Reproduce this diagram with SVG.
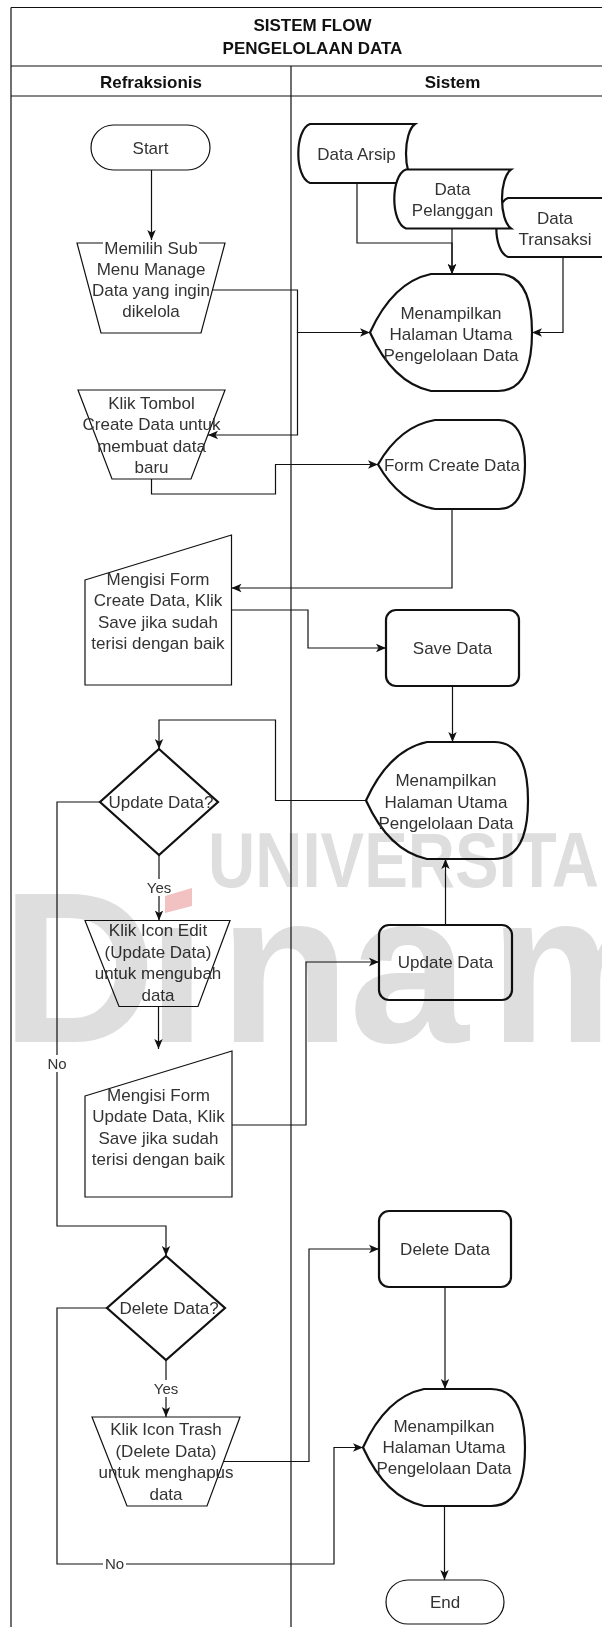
<svg xmlns="http://www.w3.org/2000/svg" width="602" height="1627" viewBox="0 0 602 1627">
<defs>
<style>
.ln{fill:none;stroke:#111;stroke-width:1.2}
.n1{fill:#fff;stroke:#111;stroke-width:1.2}
.n2{fill:#fff;stroke:#111;stroke-width:2.2}
.e{fill:none;stroke:#111;stroke-width:1.2;marker-end:url(#arr)}
text{font-family:"Liberation Sans",Arial,Helvetica,sans-serif}
.t{font-size:17px;fill:#333;text-anchor:middle}
.h{font-size:17px;font-weight:bold;fill:#111;text-anchor:middle}
.l{font-size:15px;fill:#333;text-anchor:middle}
.bg{fill:#fff}
.wm{font-weight:bold;fill:#dedede}
</style>
<marker id="arr" viewBox="0 0 10 10" refX="10" refY="5" markerWidth="10" markerHeight="10" markerUnits="userSpaceOnUse" orient="auto"><path d="M0,0.8 L10,5 L0,9.2 L2.5,5 Z" fill="#111"/></marker>
<clipPath id="nodot"><path clip-rule="evenodd" d="M-10,840 H620 V1100 H-10 Z M150,870 H205 V924 H150 Z"/></clipPath>
</defs>
<rect x="0" y="0" width="602" height="1627" fill="#fff"/>

<g id="lanes">
<path class="ln" d="M11,7.5 H614 M11,7.5 V1640 M11,66 H614 M11,96 H614 M291,66 V1640"/>
<text class="h" x="312.5" y="31">SISTEM FLOW</text>
<text class="h" x="312.5" y="54">PENGELOLAAN DATA</text>
<text class="h" x="151" y="87.5">Refraksionis</text>
<text class="h" x="452.5" y="87.5">Sistem</text>
</g>

<g id="start">
<rect class="n1" x="91" y="125" width="119" height="45" rx="22.5"/>
<text class="t" x="150.5" y="153.5">Start</text>
</g>

<g id="pilih-menu">
<path class="n1" d="M77,243 L225,243 L201,333 L101,333 Z"/>
<rect class="bg" x="103" y="241" width="96" height="15"/>
<text class="t" x="151" y="254">Memilih Sub</text>
<text class="t" x="151" y="275">Menu Manage</text>
<text class="t" x="151" y="296">Data yang ingin</text>
<text class="t" x="151" y="317">dikelola</text>
</g>

<g id="data-arsip">
<path class="n2" d="M310,124 H415 C403,132.85 403,174.15 415,183 H310 C294.4,177.1 294.4,129.9 310,124 Z"/>
<text class="t" x="356.5" y="160">Data Arsip</text>
</g>

<g id="data-transaksi">
<path class="n2" d="M508,198 H614 C602,206.85 602,248.15 614,257 H508 C492.4,251.1 492.4,203.9 508,198 Z"/>
<text class="t" x="555" y="223.5">Data</text>
<text class="t" x="555" y="244.5">Transaksi</text>
</g>

<g id="data-pelanggan">
<path class="n2" d="M406,169.5 H511 C499,178.35 499,219.65 511,228.5 H406 C390.4,222.6 390.4,175.4 406,169.5 Z"/>
<text class="t" x="452.5" y="195">Data</text>
<text class="t" x="452.5" y="216">Pelanggan</text>
</g>

<g id="tampil-1">
<path class="n2" d="M431,274 H498 Q532,274 532,332.5 Q532,391 498,391 H431 Q393,383 370,332.5 Q393,282 431,274 Z"/>
<text class="t" x="451" y="318.5">Menampilkan</text>
<text class="t" x="451" y="339.5">Halaman Utama</text>
<text class="t" x="451" y="360.5">Pengelolaan Data</text>
</g>

<g id="klik-create">
<path class="n1" d="M78,390 L225,390 L191,479 L112,479 Z"/>
<text class="t" x="151.5" y="409">Klik Tombol</text>
<text class="t" x="151.5" y="430">Create Data untuk</text>
<text class="t" x="151.5" y="451.5">membuat data</text>
<text class="t" x="151.5" y="473">baru</text>
</g>

<g id="form-create">
<path class="n2" d="M435,420 H499 Q525,420 525,464.5 Q525,509 499,509 H435 Q400,503 378,464.5 Q400,426 435,420 Z"/>
<text class="t" x="452" y="470.5">Form Create Data</text>
</g>

<g id="isi-create">
<path class="n1" d="M85,580 L231.5,535 L231.5,685 L85,685 Z"/>
<text class="t" x="158" y="584.5">Mengisi Form</text>
<text class="t" x="158" y="606">Create Data, Klik</text>
<text class="t" x="158" y="627.5">Save jika sudah</text>
<text class="t" x="158" y="649">terisi dengan baik</text>
</g>

<g id="save-data">
<rect class="n2" x="386" y="610" width="133" height="76" rx="10"/>
<text class="t" x="452.5" y="654">Save Data</text>
</g>

<g id="tampil-2">
<path class="n2" d="M427,742 H494 Q528,742 528,800.5 Q528,859 494,859 H427 Q389,851 366,800.5 Q389,750 427,742 Z"/>
<text class="t" x="446" y="786">Menampilkan</text>
<text class="t" x="446" y="807.5">Halaman Utama</text>
<text class="t" x="446" y="829">Pengelolaan Data</text>
</g>

<g id="update-q">
<path class="n2" d="M159,749 L218,802 L159,855 L100,802 Z"/>
<text class="t" x="161" y="808">Update Data?</text>
</g>

<g id="klik-edit">
<path class="n1" d="M85,920.5 L230,920.5 L198,1006.5 L119,1006.5 Z"/>
<text class="t" x="158" y="936">Klik Icon Edit</text>
<text class="t" x="158" y="957.5">(Update Data)</text>
<text class="t" x="158" y="979">untuk mengubah</text>
<text class="t" x="158" y="1000.5">data</text>
</g>

<g id="update-data">
<rect class="n2" x="379" y="925" width="133" height="75" rx="10"/>
<text class="t" x="445.5" y="968">Update Data</text>
</g>

<g id="isi-update">
<path class="n1" d="M85,1096 L232,1051 L232,1197 L85,1197 Z"/>
<text class="t" x="158.5" y="1100.5">Mengisi Form</text>
<text class="t" x="158.5" y="1122">Update Data, Klik</text>
<text class="t" x="158.5" y="1143.5">Save jika sudah</text>
<text class="t" x="158.5" y="1165">terisi dengan baik</text>
</g>

<g id="delete-q">
<path class="n2" d="M166,1256 L225,1308 L166,1360 L107,1308 Z"/>
<text class="t" x="169" y="1314">Delete Data?</text>
</g>

<g id="delete-data">
<rect class="n2" x="379" y="1211" width="132" height="76" rx="10"/>
<text class="t" x="445" y="1255">Delete Data</text>
</g>

<g id="klik-trash">
<path class="n1" d="M92,1417 L240,1417 L207,1506 L127,1506 Z"/>
<text class="t" x="166" y="1435">Klik Icon Trash</text>
<text class="t" x="166" y="1457">(Delete Data)</text>
<text class="t" x="166" y="1478">untuk menghapus</text>
<text class="t" x="166" y="1499.5">data</text>
</g>

<g id="tampil-3">
<path class="n2" d="M424,1389 H491 Q525,1389 525,1447.5 Q525,1506 491,1506 H424 Q386,1498 363,1447.5 Q386,1397 424,1389 Z"/>
<text class="t" x="444" y="1432">Menampilkan</text>
<text class="t" x="444" y="1453">Halaman Utama</text>
<text class="t" x="444" y="1474">Pengelolaan Data</text>
</g>

<g id="end">
<rect class="n1" x="386" y="1580" width="118" height="44" rx="22"/>
<text class="t" x="445" y="1608">End</text>
</g>

<g id="connectors">
<path class="e" d="M151.5,170 V240"/>
<path class="e" d="M212,290 H297.5 V332.5 H370"/>
<path class="e" d="M370,332.5 H297.5 V435 H208"/>
<path class="e" d="M357,183 V243 H452 V274"/>
<path class="e" d="M452,228.5 V274"/>
<path class="e" d="M563,257 V332.5 H532"/>
<path class="e" d="M151.5,479 V494 H275.5 V464.5 H378"/>
<path class="e" d="M452,509 V588 H231.5"/>
<path class="e" d="M231.5,610 H308 V648 H386"/>
<path class="e" d="M452.5,686 V742"/>
<path class="e" d="M366,800.5 H275.5 V720 H159 V749"/>
<path class="e" d="M100,802 H57 V1226 H166 V1256"/>
<path class="e" d="M159,855 V920.5"/>
<path class="e" d="M158.5,1006.5 V1049"/>
<path class="e" d="M232,1125 H306 V962 H379"/>
<path class="e" d="M445.5,925 V859"/>
<path class="e" d="M107,1308 H57 V1564 H334 V1447.5 H363"/>
<path class="e" d="M166,1360 V1417"/>
<path class="e" d="M223.5,1461.5 H309 V1249 H379"/>
<path class="e" d="M445,1287 V1389"/>
<path class="e" d="M444.5,1506 V1580"/>
<rect class="bg" x="46" y="1055" width="22" height="17"/>
<text class="l" x="57" y="1069">No</text>
<rect class="bg" x="145" y="879" width="28" height="17"/>
<text class="l" x="159" y="893">Yes</text>
<rect class="bg" x="152" y="1380" width="28" height="17"/>
<text class="l" x="166" y="1394">Yes</text>
<rect class="bg" x="103" y="1555" width="23" height="17"/>
<text class="l" x="114.5" y="1569">No</text>
</g>

<g id="watermark" style="mix-blend-mode:multiply">
<text class="wm" x="208" y="887" font-size="78" textLength="391" lengthAdjust="spacingAndGlyphs">UNIVERSITA</text>
<text class="wm" x="1 147 219 349 489" y="1042" font-size="215" clip-path="url(#nodot)">Dinam</text>
<polygon points="165,896 192,888 192,906 165,913" fill="#f2c2c2"/>
</g>
</svg>
